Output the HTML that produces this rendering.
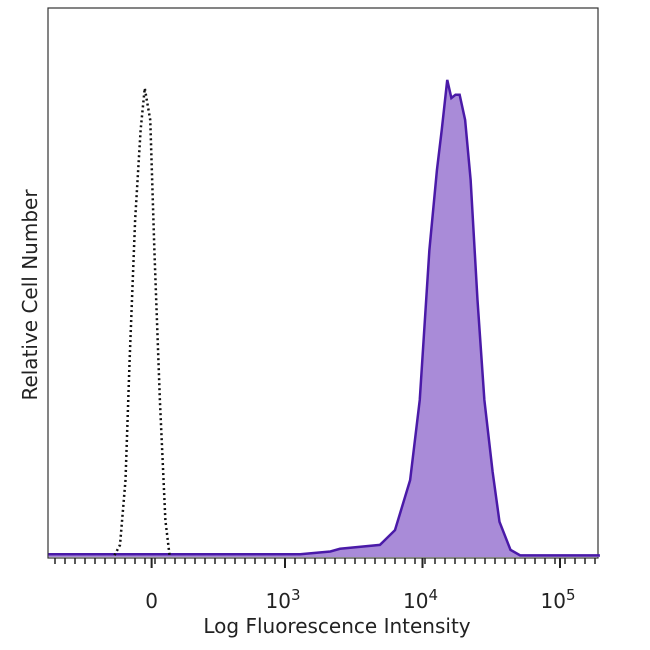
<!DOCTYPE html>
<html><head><meta charset="utf-8"><style>
body{margin:0;background:#fff}
svg{display:block;font-family:"DejaVu Sans","Liberation Sans",sans-serif}
</style></head><body>
<svg width="650" height="650" viewBox="0 0 650 650">
<rect x="48" y="8" width="550" height="550" fill="none" stroke="#333" stroke-width="1.2"/>
<g id="ticks"></g>
<g id="marks"></g>
<g id="labels"></g>
<text x="337" y="633" text-anchor="middle" font-size="20" fill="#222">Log Fluorescence Intensity</text>
<text transform="translate(37,295) rotate(-90)" text-anchor="middle" font-size="20" fill="#222">Relative Cell Number</text>
</svg>
<script>
const stainedX=[1.28,3.11,3.33,3.40,3.69,3.80,3.91,3.98,4.05,4.105,4.14,4.18,4.21,4.24,4.27,4.31,4.35,4.40,4.45,4.51,4.56,4.64,4.71,5.29];
const stainedY=[0.5,0.5,1.0,1.5,2.2,4.9,14,28.6,55.9,70.5,77.8,86.9,83.6,84.2,84.2,79.6,68.7,46.8,28.6,15.5,6.4,1.3,0.3,0.3];
const controlX=[1.76,1.80,1.84,1.87,1.91,1.95,1.98,2.02,2.05,2.09,2.13,2.16];
const controlY=[0.3,2.2,14,35.9,61.4,77.8,85.4,79.6,55.9,28.6,6.7,0.4];
const tickVals=[2.03,3,4,5];
const tickText=["0","10","10","10"];
const tickExp=["","3","4","5"];
const NS="http://www.w3.org/2000/svg";
const xs=v=>285+(v-3)*137.5;
const ys=c=>557-c*5.49;
const marks=document.getElementById('marks');
let d="M"+xs(stainedX[0])+","+ys(0);
stainedX.forEach((x,i)=>{d+=" L"+xs(x)+","+ys(stainedY[i]);});
d+=" L"+xs(stainedX[stainedX.length-1])+","+ys(0)+"Z";
const fill=document.createElementNS(NS,'path');
fill.setAttribute('d',d);fill.setAttribute('fill','#a98bd8');


marks.appendChild(fill);
const line=document.createElementNS(NS,'polyline');
line.setAttribute('points',stainedX.map((x,i)=>xs(x)+","+ys(stainedY[i])).join(" "));
line.setAttribute('fill','none');line.setAttribute('stroke','#4a1aa8');line.setAttribute('stroke-width','2.5');


marks.appendChild(line);
const ctl=document.createElementNS(NS,'polyline');
ctl.setAttribute('points',controlX.map((x,i)=>xs(x)+","+ys(controlY[i])).join(" "));
ctl.setAttribute('fill','none');ctl.setAttribute('stroke','#111');ctl.setAttribute('stroke-width','2.5');ctl.setAttribute('stroke-dasharray','2 3');


marks.appendChild(ctl);
const ticks=document.getElementById('ticks');
for(let px=55;px<598;px+=10){
 const t=document.createElementNS(NS,'line');
 t.setAttribute('x1',px);t.setAttribute('x2',px);t.setAttribute('y1',558);t.setAttribute('y2',564);
 t.setAttribute('stroke','#222');t.setAttribute('stroke-width','1.5');
 
 
 ticks.appendChild(t);
}
const labels=document.getElementById('labels');
tickVals.forEach((v,i)=>{
 const t=document.createElementNS(NS,'line');
 t.setAttribute('x1',xs(v));t.setAttribute('x2',xs(v));t.setAttribute('y1',558);t.setAttribute('y2',568);
 t.setAttribute('stroke','#222');t.setAttribute('stroke-width','2');
 
 
 ticks.appendChild(t);
 const tx=document.createElementNS(NS,'text');
 tx.setAttribute('x',xs(v)+(tickExp[i]?-2:0));tx.setAttribute('y',608);tx.setAttribute('text-anchor','middle');
 tx.setAttribute('font-size','20');tx.setAttribute('fill','#222');
 tx.textContent=tickText[i];
 if(tickExp[i]){const s=document.createElementNS(NS,'tspan');s.setAttribute('dy','-8');s.setAttribute('font-size','15');s.textContent=tickExp[i];tx.appendChild(s);}
 
 
 labels.appendChild(tx);
});
</script>
</body></html>
